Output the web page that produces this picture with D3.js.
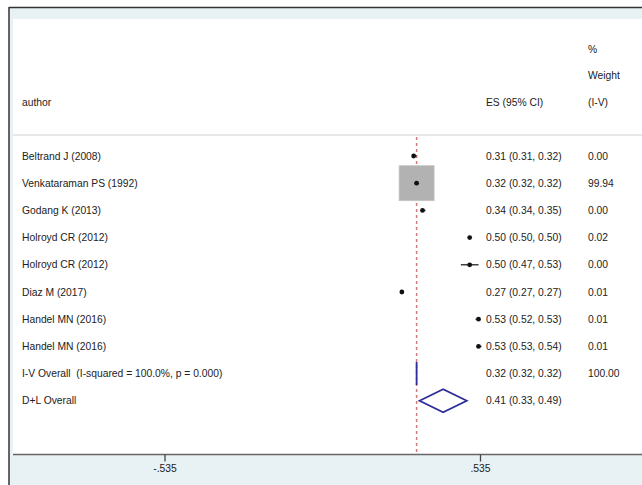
<!DOCTYPE html>
<html>
<head>
<meta charset="utf-8">
<script src="https://cdn.jsdelivr.net/npm/d3@7"></script>
<style>
  html, body { margin: 0; padding: 0; background: #fff; }
  svg { display: block; }
  text { font-family: "Liberation Sans", Arial, Helvetica, sans-serif; font-size: 10.3px; fill: #222; white-space: pre; }
</style>
</head>
<body>
<svg id="chart" width="642" height="485"></svg>
<script>
// Study rows of the forest plot
const authors = [
  "Beltrand J (2008)",
  "Venkataraman PS (1992)",
  "Godang K (2013)",
  "Holroyd CR (2012)",
  "Holroyd CR (2012)",
  "Diaz M (2017)",
  "Handel MN (2016)",
  "Handel MN (2016)"
];
const es      = [0.31, 0.32, 0.34, 0.50, 0.50, 0.27, 0.53, 0.53];
const ciLow   = [0.31, 0.32, 0.34, 0.50, 0.47, 0.27, 0.52, 0.53];
const ciHigh  = [0.32, 0.32, 0.35, 0.50, 0.53, 0.27, 0.53, 0.54];
const weights = [0.00, 99.94, 0.00, 0.02, 0.00, 0.01, 0.01, 0.01];

// Pooled estimates
const pooledLabels = ["I-V Overall  (I-squared = 100.0%, p = 0.000)", "D+L Overall"];
const pooledES     = [0.32, 0.41];
const pooledLow    = [0.32, 0.33];
const pooledHigh   = [0.32, 0.49];
const pooledWeight = ["100.00", ""];

// Axis ticks
const tickValues = [-0.535, 0.535];
const tickLabels = ["-.535", ".535"];

const headerCols = { author: "author", es: "ES (95% CI)", weight: ["%", "Weight", "(I-V)"] };

const svg = d3.select("#chart");
const W = 642, H = 485;

// Frame: light blue plot region with dark outer border on top/left
svg.append("rect").attr("x", 9).attr("y", 7).attr("width", W).attr("height", H)
  .attr("fill", "#e8f1f3");
svg.append("line").attr("x1", 9).attr("x2", W).attr("y1", 7.5).attr("y2", 7.5)
  .attr("stroke", "#333").attr("stroke-width", 1.5);
svg.append("line").attr("x1", 9).attr("x2", 9).attr("y1", 7).attr("y2", H)
  .attr("stroke", "#333").attr("stroke-width", 1.5);

const axisY = 454.5;
svg.append("rect").attr("x", 13).attr("y", 19).attr("width", W - 13).attr("height", axisY - 19)
  .attr("fill", "#ffffff");

// Scales
const x = d3.scaleLinear().domain([-0.535, 0.535]).range([164.5, 480]);
const nRows = authors.length + pooledLabels.length;
const y = d3.scalePoint().domain(d3.range(nRows)).range([156, 400.8]);

// Header separator
svg.append("line").attr("x1", 13).attr("x2", W).attr("y1", 135).attr("y2", 135)
  .attr("stroke", "#e0e0e0").attr("stroke-width", 1.5);

// Header text
const colAuthor = 22, colES = 486, colW = 588;
svg.append("text").attr("x", colAuthor).attr("y", 102).attr("dy", "0.35em").text(headerCols.author);
svg.append("text").attr("x", colES).attr("y", 102).attr("dy", "0.35em").text(headerCols.es);
headerCols.weight.forEach((t, i) => {
  svg.append("text").attr("x", colW).attr("y", 49 + i * 26.5).attr("dy", "0.35em").text(t);
});

// Reference line at the I-V pooled estimate
svg.append("line")
  .attr("x1", x(pooledES[0])).attr("x2", x(pooledES[0]))
  .attr("y1", 137).attr("y2", axisY)
  .attr("stroke", "#d07a7a").attr("stroke-width", 1.5)
  .attr("stroke-dasharray", "3,3");

// Study rows
const rows = authors.map((a, i) => ({ a, es: es[i], lo: ciLow[i], hi: ciHigh[i], w: weights[i], i }));
const boxSide = w => 35 * Math.sqrt(w / 100);

const g = svg.append("g");
rows.forEach(d => {
  const cy = y(d.i);
  const s = boxSide(d.w);
  if (s > 1) {
    g.append("rect")
      .attr("x", x(d.es) - s / 2).attr("y", cy - s / 2)
      .attr("width", s).attr("height", s)
      .attr("fill", "#b2b2b2").attr("stroke", "#c4c4c4").attr("stroke-width", 0.8);
  }
  if (x(d.hi) - x(d.lo) > 0.5) {
    g.append("line")
      .attr("x1", x(d.lo)).attr("x2", x(d.hi))
      .attr("y1", cy).attr("y2", cy)
      .attr("stroke", "#111").attr("stroke-width", 1.2);
  }
  g.append("circle").attr("cx", x(d.es)).attr("cy", cy).attr("r", 2.4).attr("fill", "#111");

  g.append("text").attr("x", colAuthor).attr("y", cy).attr("dy", "0.35em").text(d.a);
  g.append("text").attr("x", colES).attr("y", cy).attr("dy", "0.35em")
    .text(`${d.es.toFixed(2)} (${d.lo.toFixed(2)}, ${d.hi.toFixed(2)})`);
  g.append("text").attr("x", colW).attr("y", cy).attr("dy", "0.35em").text(d.w.toFixed(2));
});

// Pooled diamonds
const halfH = 11.5;
pooledLabels.forEach((lab, j) => {
  const cy = y(authors.length + j);
  const pts = [
    [x(pooledLow[j]), cy],
    [x(pooledES[j]), cy - halfH],
    [x(pooledHigh[j]), cy],
    [x(pooledES[j]), cy + halfH]
  ];
  svg.append("path")
    .attr("d", d3.line()(pts) + "Z")
    .attr("fill", "none").attr("stroke", "#2e2e9a").attr("stroke-width", 1.8)
    .attr("stroke-linejoin", "miter");

  svg.append("text").attr("x", colAuthor).attr("y", cy).attr("dy", "0.35em").text(lab);
  svg.append("text").attr("x", colES).attr("y", cy).attr("dy", "0.35em")
    .text(`${pooledES[j].toFixed(2)} (${pooledLow[j].toFixed(2)}, ${pooledHigh[j].toFixed(2)})`);
  if (pooledWeight[j]) {
    svg.append("text").attr("x", colW).attr("y", cy).attr("dy", "0.35em").text(pooledWeight[j]);
  }
});

// X axis
svg.append("line").attr("x1", 13).attr("x2", W).attr("y1", axisY).attr("y2", axisY)
  .attr("stroke", "#666").attr("stroke-width", 1.5);
const axis = d3.axisBottom(x)
  .tickValues(tickValues)
  .tickSize(7)
  .tickPadding(3)
  .tickFormat((d, i) => tickLabels[i]);
const ax = svg.append("g").attr("transform", `translate(0,${axisY})`).call(axis);
ax.select(".domain").remove();
ax.selectAll(".tick line").attr("stroke", "#444").attr("stroke-width", 1.3);
ax.selectAll(".tick text").attr("fill", "#222")
  .style("font-family", "'Liberation Sans', Arial, sans-serif").style("font-size", "10.3px");
</script>
</body>
</html>
